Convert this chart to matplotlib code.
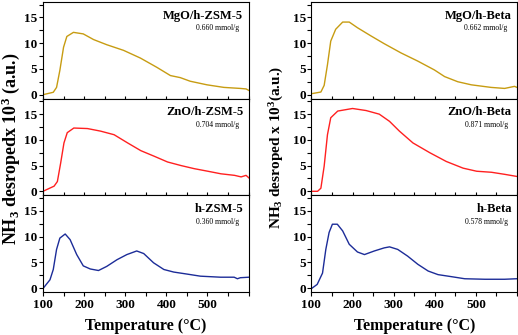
import matplotlib
matplotlib.use("Agg")
import matplotlib.pyplot as plt
from matplotlib.ticker import MultipleLocator

plt.rcParams['font.family'] = ['Liberation Serif', 'DejaVu Serif']
plt.rcParams['font.weight'] = 'bold'
plt.rcParams['mathtext.default'] = 'regular'

# --- ZSM-5 series (left column) ---
t_mgo_zsm = [101, 125, 133, 141, 150, 158, 174, 198, 223, 255, 296, 337, 377, 410, 434, 458, 499, 540, 580, 594, 601]
v_mgo_zsm = [0.0, 0.45, 1.4, 4.7, 9.2, 11.3, 12.1, 11.8, 10.7, 9.7, 8.6, 7.1, 5.3, 3.7, 3.3, 2.6, 1.9, 1.4, 1.2, 1.1, 0.8]

t_zno_zsm = [100, 127, 135, 143, 151, 159, 175, 208, 240, 273, 306, 338, 371, 403, 436, 468, 501, 533, 566, 582, 594, 601]
v_zno_zsm = [0.0, 1.0, 1.9, 5.5, 9.4, 11.4, 12.3, 12.2, 11.7, 11.0, 9.4, 7.9, 6.8, 5.7, 5.0, 4.4, 3.9, 3.4, 3.1, 2.8, 3.1, 2.6]

t_h_zsm = [101, 117, 125, 133, 141, 154, 166, 182, 198, 215, 235, 255, 280, 304, 328, 345, 369, 394, 418, 451, 483, 532, 565, 573, 580, 601]
v_h_zsm = [0.0, 1.6, 3.6, 7.5, 9.7, 10.5, 9.4, 6.5, 4.3, 3.7, 3.4, 4.2, 5.5, 6.5, 7.2, 6.7, 4.9, 3.6, 3.1, 2.7, 2.3, 2.1, 2.1, 1.8, 2.0, 2.1]

# --- Beta series (right column) ---
t_mgo_beta = [102, 123, 131, 139, 147, 159, 176, 192, 212, 245, 277, 318, 359, 399, 424, 456, 489, 537, 570, 594, 600]
v_mgo_beta = [0.2, 0.5, 1.8, 5.8, 10.4, 12.7, 14.1, 14.1, 13.0, 11.4, 9.9, 8.1, 6.5, 4.8, 3.5, 2.5, 1.9, 1.4, 1.2, 1.6, 1.4]

t_zno_beta = [102, 115, 123, 131, 139, 147, 164, 200, 233, 265, 290, 314, 347, 388, 428, 469, 502, 538, 570, 599]
v_zno_beta = [0.0, 0.0, 0.6, 4.9, 11.0, 14.3, 15.6, 16.1, 15.7, 15.0, 13.6, 11.7, 9.4, 7.5, 5.8, 4.5, 3.9, 3.7, 3.3, 2.9]

t_h_beta = [102, 114, 127, 135, 143, 151, 163, 176, 192, 212, 229, 253, 277, 290, 310, 334, 359, 384, 408, 441, 473, 522, 570, 599]
v_h_beta = [0.0, 0.7, 2.9, 7.5, 10.8, 12.4, 12.4, 11.1, 8.5, 7.0, 6.5, 7.2, 7.8, 8.0, 7.5, 6.2, 4.6, 3.3, 2.6, 2.2, 1.8, 1.7, 1.7, 1.8]

names = [["MgO/h-ZSM-5", "MgO/h-Beta"],
         ["ZnO/h-ZSM-5", "ZnO/h-Beta"],
         ["h-ZSM-5", "h-Beta"]]
amounts = [["0.660 mmol/g", "0.662 mmol/g"],
           ["0.704 mmol/g", "0.871 mmol/g"],
           ["0.360 mmol/g", "0.578 mmol/g"]]
series = [[(t_mgo_zsm, v_mgo_zsm), (t_mgo_beta, v_mgo_beta)],
          [(t_zno_zsm, v_zno_zsm), (t_zno_beta, v_zno_beta)],
          [(t_h_zsm, v_h_zsm), (t_h_beta, v_h_beta)]]
colors = ["#c79c12", "#ff2020", "#1c2c98"]

fig, axs = plt.subplots(3, 2, figsize=(5.18, 3.35), dpi=100)
fig.subplots_adjust(left=0.083, right=0.998, top=0.994, bottom=0.128,
                    wspace=0.306, hspace=0)

for r in range(3):
    for c in range(2):
        ax = axs[r][c]
        t, v = series[r][c]
        ax.plot(t, v, color=colors[r], lw=1.0)
        ax.set_xlim(100, 600)
        ax.set_ylim(-0.8, 18)
        ax.set_yticks([0, 5, 10, 15])
        ax.yaxis.set_minor_locator(MultipleLocator(2.5))
        ax.set_xticks([100, 200, 300, 400, 500])
        ax.xaxis.set_minor_locator(MultipleLocator(50))
        for s in ax.spines.values():
            s.set_linewidth(0.8)
        ax.tick_params(axis='y', which='both', direction='out', length=3,
                       width=0.8, labelsize=9.5, pad=1)
        if r < 2:
            ax.tick_params(axis='x', which='both', direction='inout',
                           length=4, width=0.8, labelbottom=False)
        else:
            ax.tick_params(axis='x', which='both', direction='out',
                           length=3, width=0.8, labelsize=9.5, pad=2)
            ax.set_xlabel("Temperature (°C)", fontsize=11.5, fontweight='bold',
                          labelpad=5)
        for lab in ax.get_xticklabels() + ax.get_yticklabels():
            lab.set_fontweight('bold')
        ax.text(0.975, 0.86, names[r][c], transform=ax.transAxes,
                ha='right', va='center', fontsize=9, fontweight='bold')
        ax.text(0.955, 0.73, amounts[r][c], transform=ax.transAxes,
                ha='right', va='center', fontsize=5.5, fontweight='normal')

fig.text(0.021, 0.555, "NH$_3$ desropedx 10$^3$ (a.u.)", rotation=90,
         ha='center', va='center', fontsize=13, fontweight='bold')
fig.text(0.535, 0.56, "NH$_3$ desroped x 10$^3$(a.u.)", rotation=90,
         ha='center', va='center', fontsize=11, fontweight='bold')

fig.savefig("out.png", dpi=100)
